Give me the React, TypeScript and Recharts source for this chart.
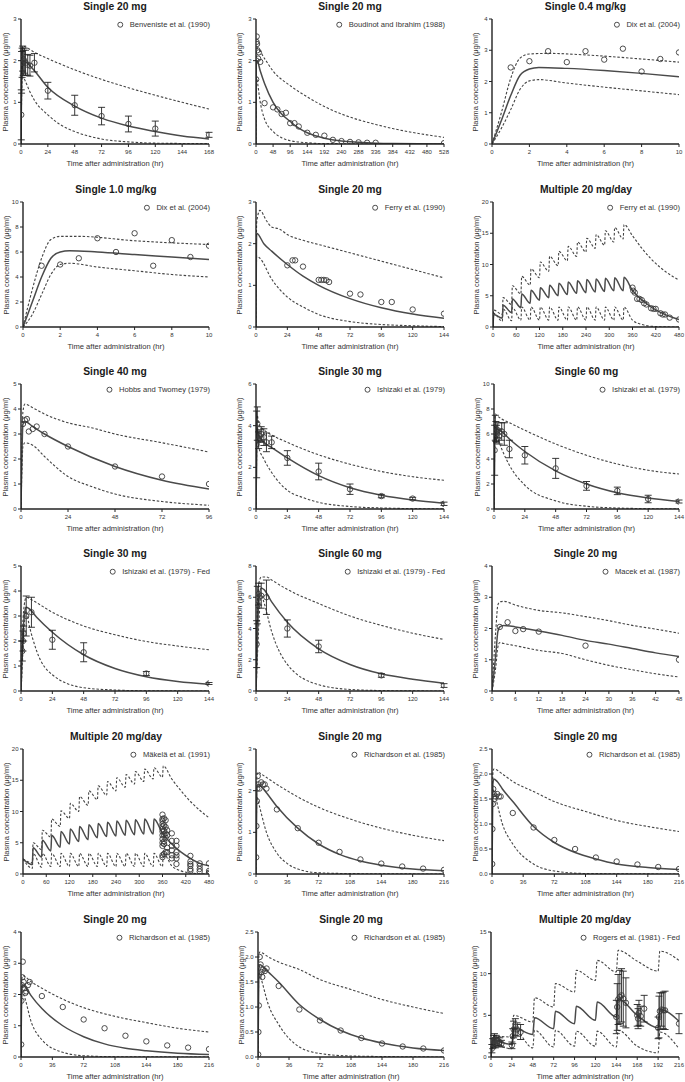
import React from 'react';
import { ComposedChart, Line, Scatter, XAxis, YAxis, ErrorBar } from 'recharts';

// ---------- Panel 1: Single 20 mg, Benveniste et al. (1990)
const p1Med = [[0,0],[0.5,1.3],[1,1.85],[2,2.0],[4,1.97],[8,1.88],[12,1.76],[24,1.36],[48,0.91],[72,0.62],[96,0.43],[120,0.3],[144,0.19],[168,0.12]];
const p1Up = [[0,0],[0.5,1.6],[1,2.2],[2,2.35],[4,2.33],[12,2.2],[24,2.05],[48,1.78],[72,1.55],[96,1.35],[120,1.17],[144,1.0],[168,0.84]];
const p1Lo = [[0,0],[0.5,1.0],[1,1.5],[2,1.6],[4,1.5],[8,1.25],[12,1.05],[24,0.7],[36,0.45],[48,0.3],[72,0.12],[96,0.05],[120,0.02],[168,0.01]];
const p1Obs = [[0.25,0.7,0.6],[0.5,1.72,0.5],[1,1.95,0.35],[1.5,2.05,0.3],[2,1.95,0.3],[3,2.0,0.3],[4,1.95,0.3],[6,1.9,0.25],[8,1.88,0.25],[12,1.95,0.22],[24,1.28,0.2],[48,0.93,0.24],[72,0.67,0.21],[96,0.48,0.19],[120,0.37,0.18],[168,0.22,0.06]];

// ---------- Panel 2: Single 20 mg, Boudinot and Ibrahim (1988)
const p2Med = [[0,0],[1,2.0],[3,2.0],[12,1.75],[24,1.45],[48,1.0],[72,0.72],[96,0.54],[120,0.38],[144,0.27],[192,0.14],[240,0.07],[288,0.04],[336,0.02],[384,0.01],[528,0]];
const p2Up = [[0,0],[1,2.2],[3,2.3],[24,2.05],[48,1.75],[96,1.4],[144,1.13],[192,0.9],[240,0.72],[288,0.58],[336,0.47],[384,0.37],[432,0.29],[480,0.22],[528,0.16]];
const p2Lo = [[0,0],[1,1.65],[3,1.55],[12,1.0],[24,0.6],[48,0.3],[72,0.15],[96,0.08],[144,0.03],[192,0.01],[528,0]];
const p2Obs = [[0.5,1.55],[1,2.0],[1.5,2.45],[2,2.58],[3,2.4],[4,2.25],[6,2.05],[8,2.2],[12,1.97],[24,0.98],[48,0.88],[60,0.83],[72,0.72],[84,0.75],[96,0.5],[108,0.5],[120,0.42],[144,0.27],[168,0.22],[192,0.2],[216,0.1],[240,0.07],[264,0.05],[288,0.04],[312,0.03],[336,0.03],[528,0.02]];

// ---------- Panel 3: Single 0.4 mg/kg, Dix et al. (2004)
const p3Med = [[0,0],[0.5,0.75],[1,1.55],[1.5,2.2],[2,2.4],[2.5,2.45],[4,2.42],[6,2.35],[8,2.26],[10,2.15]];
const p3Up = [[0,0],[0.5,1.0],[1,2.1],[1.5,2.75],[2,2.88],[3,2.9],[5,2.85],[8,2.72],[10,2.62]];
const p3Lo = [[0,0],[0.5,0.5],[1,1.1],[1.5,1.75],[2,2.02],[2.5,2.06],[4,1.95],[6,1.82],[8,1.7],[10,1.58]];
const p3Obs = [[1,2.45],[2,2.65],[3,2.97],[4,2.62],[5,2.97],[6,2.7],[7,3.05],[8,2.32],[9,2.72],[10,2.93]];

// ---------- Panel 4: Single 1.0 mg/kg, Dix et al. (2004)
const p4Med = [[0,0],[0.5,2.0],[1,4.0],[1.5,5.5],[2,6.0],[2.5,6.1],[4,6.0],[6,5.8],[8,5.6],[10,5.4]];
const p4Up = [[0,0],[0.5,3.0],[1,5.5],[1.5,7.0],[2,7.25],[3,7.25],[6,6.9],[10,6.6]];
const p4Lo = [[0,0],[0.5,1.0],[1,2.6],[1.5,4.2],[2,5.0],[2.5,5.1],[4,4.8],[6,4.5],[8,4.2],[10,4.0]];
const p4Obs = [[1,4.9],[2,5.0],[3,5.5],[4,7.1],[5,6.0],[6,7.5],[7,4.9],[8,6.95],[9,5.6],[10,6.5]];

// ---------- Panel 5: Single 20 mg, Ferry et al. (1990)
const p5Med = [[0,0],[0.5,2.25],[6,2.0],[12,1.82],[24,1.5],[36,1.22],[48,1.0],[72,0.68],[96,0.46],[120,0.31],[144,0.21]];
const p5Up = [[0,0],[0.5,2.5],[3,2.8],[8,2.55],[12,2.4],[18,2.35],[24,2.22],[36,2.08],[48,1.98],[72,1.78],[96,1.58],[120,1.38],[144,1.18]];
const p5Lo = [[0,0],[0.5,1.7],[3,1.65],[12,1.15],[24,0.72],[36,0.48],[48,0.3],[72,0.13],[96,0.06],[120,0.03],[144,0.01]];
const p5Obs = [[24,1.48],[28,1.6],[30,1.6],[36,1.45],[48,1.13],[50,1.13],[52,1.13],[54,1.12],[56,1.08],[72,0.8],[80,0.78],[96,0.6],[104,0.6],[120,0.42],[144,0.32]];

// ---------- Panel 6: Multiple 20 mg/day, Ferry et al. (1990)
const p6Med = [[0,0],[2,2.0],[24,1.4],[26,3.5],[48,2.3],[50,4.5],[72,3.1],[74,5.3],[96,3.8],[98,5.9],[120,4.3],[122,6.3],[144,4.7],[146,6.7],[168,5.0],[170,7.0],[192,5.2],[194,7.2],[216,5.4],[218,7.4],[240,5.5],[242,7.6],[264,5.6],[266,7.7],[288,5.7],[290,7.8],[312,5.8],[314,7.9],[336,5.8],[338,7.95],[360,5.85],[384,4.35],[408,3.2],[432,2.35],[456,1.7],[480,1.2]];
const p6Up = [[0,0],[2,2.7],[24,2.0],[26,4.7],[48,3.6],[50,6.6],[72,5.3],[74,8.1],[96,6.7],[98,9.3],[120,7.9],[122,10.4],[144,8.9],[146,11.3],[168,9.8],[170,12.1],[192,10.6],[194,12.9],[216,11.3],[218,13.6],[240,12.0],[242,14.2],[264,12.6],[266,14.8],[288,13.1],[290,15.4],[312,13.6],[314,15.9],[336,14.1],[338,16.4],[360,14.6],[384,12.6],[408,10.9],[432,9.5],[456,8.4],[480,7.5]];
const p6Lo = [[0,0],[2,2.2],[24,0.9],[26,2.9],[48,1.0],[50,3.1],[72,1.1],[74,3.2],[96,1.1],[98,3.2],[120,1.1],[122,3.2],[144,1.1],[146,3.2],[168,1.1],[170,3.2],[192,1.1],[194,3.2],[216,1.1],[218,3.2],[240,1.1],[242,3.2],[264,1.1],[266,3.2],[288,1.1],[290,3.2],[312,1.1],[314,3.2],[336,1.1],[338,3.2],[360,1.1],[384,0.4],[408,0.12],[432,0.04],[456,0.01],[480,0]];
const p6Obs = [[360,6.3],[362,5.8],[366,5.5],[372,4.5],[378,4.5],[384,4.3],[390,3.8],[396,3.6],[408,3.0],[414,2.9],[420,2.9],[432,2.2],[438,2.0],[444,2.0],[456,1.5],[480,1.2]];

// ---------- Panel 7: Single 40 mg, Hobbs and Twomey (1979)
const p7Med = [[0,0],[1,3.4],[2,3.5],[6,3.3],[12,3.0],[24,2.5],[48,1.7],[72,1.15],[96,0.8]];
const p7Up = [[0,0],[1,3.9],[2,4.2],[6,4.05],[12,3.8],[24,3.45],[36,3.25],[48,3.0],[72,2.65],[96,2.28]];
const p7Lo = [[0,0],[1,2.5],[2,2.65],[6,2.55],[12,2.1],[24,1.3],[36,0.9],[48,0.6],[72,0.3],[96,0.15]];
const p7Obs = [[1,3.4],[2,3.55],[3,3.6],[4,3.1],[6,3.2],[8,3.3],[12,3.0],[24,2.5],[48,1.7],[72,1.3],[96,1.0]];

// ---------- Panel 8: Single 30 mg, Ishizaki et al. (1979)
const p8Med = [[0,0],[0.5,2.8],[1,3.9],[2,3.55],[4,3.35],[8,3.1],[12,2.95],[24,2.45],[48,1.6],[72,1.02],[96,0.66],[120,0.43],[144,0.28]];
const p8Up = [[0,0],[0.5,3.5],[1,4.5],[2,4.1],[6,3.8],[12,3.55],[24,3.2],[48,2.6],[72,2.15],[96,1.8],[120,1.55],[144,1.38]];
const p8Lo = [[0,0],[0.5,2.5],[1,3.4],[2,3.0],[6,2.4],[12,1.75],[24,0.9],[36,0.55],[48,0.32],[72,0.12],[96,0.05],[120,0.02],[144,0.01]];
const p8Obs = [[0.5,3.1,1.6],[1,4.1,0.8],[2,3.3,0.4],[3,3.5,0.3],[4,3.6,0.35],[6,3.45,0.4],[8,3.2,0.45],[12,3.2,0.3],[24,2.45,0.35],[48,1.8,0.4],[72,0.95,0.25],[96,0.62,0.08],[120,0.5,0.06],[144,0.25,0.08]];

// ---------- Panel 9: Single 60 mg, Ishizaki et al. (1979)
const p9Med = [[0,0],[0.5,5.0],[1,6.5],[2,6.4],[6,6.2],[12,5.6],[24,4.6],[48,3.05],[72,2.0],[96,1.3],[120,0.88],[144,0.6]];
const p9Up = [[0,0],[0.5,6.5],[1,7.6],[2,7.5],[6,7.2],[12,6.9],[24,6.3],[48,5.2],[72,4.3],[96,3.6],[120,3.1],[144,2.8]];
const p9Lo = [[0,0],[0.5,4.5],[1,6.0],[3,5.6],[6,4.8],[12,3.5],[24,1.9],[48,0.65],[72,0.22],[96,0.08],[120,0.03],[144,0.01]];
const p9Obs = [[0.5,4.7,2.0],[1,6.5,1.0],[1.5,6.2,0.8],[2,6.0,0.7],[3,6.3,0.6],[4,5.8,0.6],[6,6.2,0.7],[8,6.0,0.9],[12,4.8,0.7],[24,4.3,0.7],[48,3.25,0.8],[72,1.85,0.35],[96,1.45,0.3],[120,0.8,0.3],[144,0.6,0.12]];

// ---------- Panel 10: Single 30 mg, Ishizaki et al. (1979) - Fed
const p10Med = [[0,0],[1,1.6],[2,2.7],[3,3.2],[4,3.35],[6,3.3],[12,2.95],[24,2.35],[48,1.45],[72,0.9],[96,0.57],[120,0.38],[144,0.27]];
const p10Up = [[0,0],[1,2.2],[2,3.2],[4,3.75],[8,3.65],[24,3.15],[48,2.6],[72,2.25],[96,1.98],[120,1.8],[144,1.65]];
const p10Lo = [[0,0],[1,1.0],[2,2.2],[4,3.2],[6,2.7],[12,1.6],[24,0.65],[48,0.13],[72,0.04],[96,0.01],[144,0]];
const p10Obs = [[1,1.6,0.4],[1.5,2.0,0.4],[2,2.3,0.3],[4,3.0,0.8],[8,3.15,0.6],[24,2.05,0.38],[48,1.55,0.38],[96,0.7,0.08],[144,0.3,0.04]];

// ---------- Panel 11: Single 60 mg, Ishizaki et al. (1979) - Fed
const p11Med = [[0,0],[1,3.0],[2,5.5],[4,6.6],[6,6.5],[12,5.7],[24,4.4],[48,2.7],[72,1.7],[96,1.1],[120,0.75],[144,0.5]];
const p11Up = [[0,0],[1,5.0],[2,6.8],[4,7.3],[8,7.3],[12,7.1],[24,6.5],[48,5.6],[72,4.8],[96,4.2],[120,3.7],[144,3.3]];
const p11Lo = [[0,0],[1,2.0],[2,4.0],[4,6.2],[6,5.7],[12,3.8],[24,1.7],[48,0.4],[72,0.1],[96,0.03],[144,0]];
const p11Obs = [[0.5,3.0,1.5],[1,5.5,1.2],[2,6.2,0.7],[4,6.1,0.8],[8,6.0,1.1],[24,4.0,0.55],[48,2.85,0.4],[96,1.0,0.12],[144,0.35,0.12]];

// ---------- Panel 12: Single 20 mg, Macek et al. (1987)
const p12Med = [[0,0],[1,1.2],[1.5,1.9],[2,2.05],[3,2.1],[6,2.05],[12,1.92],[18,1.78],[24,1.62],[30,1.5],[36,1.36],[42,1.22],[48,1.1]];
const p12Up = [[0,0],[1,2.0],[1.5,2.75],[2,2.85],[3,2.87],[6,2.75],[12,2.58],[18,2.5],[24,2.38],[30,2.25],[36,2.1],[42,1.98],[48,1.85]];
const p12Lo = [[0,0],[1,0.8],[1.5,1.4],[2,1.55],[3,1.52],[6,1.45],[12,1.3],[18,1.2],[24,1.0],[30,0.82],[36,0.68],[42,0.55],[48,0.45]];
const p12Obs = [[2,2.05],[4,2.2],[6,1.92],[8,1.98],[12,1.9],[24,1.45],[48,1.0]];

// ---------- Panel 13: Multiple 20 mg/day, Mäkelä et al. (1991)
const p13Med = [[0,2.4],[24,1.5],[26,4.2],[48,2.7],[50,5.4],[72,3.7],[74,6.2],[96,4.3],[98,6.8],[120,4.8],[122,7.2],[144,5.2],[146,7.6],[168,5.5],[170,7.9],[192,5.8],[194,8.1],[216,6.0],[218,8.3],[240,6.1],[242,8.5],[264,6.2],[266,8.6],[288,6.3],[290,8.7],[312,6.4],[314,8.8],[336,6.4],[338,8.8],[360,6.5],[384,4.8],[408,3.5],[432,2.5],[456,1.7],[480,1.3]];
const p13Up = [[0,2.4],[24,1.8],[26,5.0],[48,3.9],[50,7.0],[72,5.9],[74,8.8],[96,7.6],[98,10.1],[120,8.9],[122,11.3],[144,10.0],[146,12.4],[168,11.0],[170,13.3],[192,11.9],[194,14.1],[216,12.6],[218,14.8],[240,13.3],[242,15.4],[264,13.9],[266,15.9],[288,14.4],[290,16.4],[312,14.8],[314,16.8],[336,15.2],[338,17.0],[360,15.5],[362,17.3],[384,15.2],[408,13.3],[432,11.6],[456,10.2],[480,9.0]];
const p13Lo = [[0,2.4],[24,0.9],[26,3.3],[48,1.1],[50,3.3],[72,1.2],[74,3.3],[96,1.2],[98,3.3],[120,1.2],[122,3.3],[144,1.2],[146,3.3],[168,1.2],[170,3.3],[192,1.2],[194,3.3],[216,1.2],[218,3.3],[240,1.2],[242,3.3],[264,1.2],[266,3.3],[288,1.2],[290,3.3],[312,1.2],[314,3.3],[336,1.2],[338,3.3],[360,1.2],[362,3.3],[384,1.3],[408,0.5],[432,0.15],[456,0.04],[480,0.01]];
const p13Obs = [[360,9.5],[360,8.8],[360,8.5],[360,8.0],[360,7.6],[360,7.2],[360,6.8],[360,6.2],[360,5.6],[360,5.0],[360,4.5],[360,3.0],[360,2.7],[364,8.9],[364,7.8],[364,6.9],[364,6.3],[364,5.2],[364,4.8],[364,3.2],[368,8.6],[368,7.5],[368,6.5],[368,5.8],[368,3.5],[372,7.0],[372,6.2],[372,4.2],[372,3.5],[384,6.5],[384,5.3],[384,4.5],[384,3.8],[384,3.0],[384,2.5],[396,5.3],[396,4.5],[396,3.5],[396,3.0],[396,2.5],[396,1.6],[432,2.9],[432,2.0],[432,1.6],[432,1.3],[432,0.8],[432,0.5],[456,1.7],[456,1.3],[456,0.8],[456,0.4],[480,1.7],[480,0.5],[480,0.2],[480,0.0]];

// ---------- Panel 14: Single 20 mg, Richardson et al. (1985)
const p14Med = [[0,0],[1,2.1],[2,2.15],[6,2.1],[12,1.95],[24,1.62],[48,1.1],[72,0.72],[96,0.47],[120,0.31],[144,0.21],[180,0.12],[216,0.08]];
const p14Up = [[0,0],[1,2.3],[2,2.45],[6,2.4],[24,2.15],[48,1.85],[72,1.6],[108,1.32],[144,1.1],[180,0.93],[216,0.8]];
const p14Lo = [[0,0],[1,1.85],[3,1.7],[12,1.0],[24,0.5],[36,0.25],[48,0.12],[72,0.03],[108,0.01],[216,0]];
const p14Obs = [[0.25,0.4],[0.5,1.15],[1,1.75],[1.5,2.05],[2,2.35],[3,2.15],[4,2.05],[6,2.2],[8,2.15],[10,2.15],[12,2.05],[24,1.55],[48,1.1],[72,0.75],[96,0.53],[120,0.35],[144,0.25],[168,0.18],[192,0.13],[216,0.1]];

// ---------- Panel 15: Single 20 mg, Richardson et al. (1985)
const p15Med = [[0,0],[1,1.8],[2,1.9],[6,1.85],[12,1.7],[24,1.45],[48,0.95],[72,0.63],[96,0.43],[120,0.3],[144,0.2],[180,0.13],[216,0.09]];
const p15Up = [[0,0],[1,2.0],[2,2.1],[12,2.0],[24,1.85],[48,1.65],[72,1.45],[108,1.25],[144,1.07],[180,0.95],[216,0.85]];
const p15Lo = [[0,0],[1,1.7],[3,1.6],[12,1.0],[24,0.6],[48,0.2],[72,0.06],[108,0.01],[216,0]];
const p15Obs = [[0.25,0.2],[0.5,0.9],[1,1.4],[1.5,1.7],[2,1.6],[3,1.5],[4,1.55],[6,1.6],[8,1.55],[10,1.55],[24,1.22],[48,0.93],[72,0.68],[96,0.5],[120,0.33],[144,0.25],[168,0.19],[192,0.14],[216,0.1]];

// ---------- Panel 16: Single 20 mg, Richardson et al. (1985)
const p16Med = [[0,0],[1,2.2],[2,2.3],[6,2.2],[12,1.95],[24,1.55],[48,1.0],[72,0.65],[96,0.42],[120,0.28],[144,0.2],[180,0.12],[216,0.08]];
const p16Up = [[0,0],[1,2.5],[2,2.6],[12,2.4],[24,2.2],[48,1.85],[72,1.58],[108,1.3],[144,1.1],[180,0.92],[216,0.8]];
const p16Lo = [[0,0],[1,2.1],[3,2.0],[12,1.1],[24,0.55],[48,0.15],[72,0.04],[108,0.01],[216,0]];
const p16Obs = [[0.25,0.4],[0.5,1.8],[1,2.3],[1.5,2.55],[2,3.05],[3,2.4],[4,2.2],[5,2.05],[6,2.1],[8,2.3],[10,2.4],[24,1.95],[48,1.6],[72,1.2],[96,0.92],[120,0.68],[144,0.5],[168,0.37],[192,0.3],[216,0.25]];

// ---------- Panel 17: Single 20 mg, Richardson et al. (1985)
const p17Med = [[0,0],[1,1.75],[2,1.85],[6,1.8],[12,1.7],[24,1.5],[48,1.05],[72,0.75],[96,0.53],[120,0.38],[144,0.28],[180,0.18],[216,0.13]];
const p17Up = [[0,0],[1,2.0],[2,2.1],[12,2.0],[24,1.9],[48,1.75],[72,1.55],[108,1.35],[144,1.15],[180,1.0],[216,0.87]];
const p17Lo = [[0,0],[1,1.7],[3,1.6],[12,1.05],[24,0.65],[48,0.2],[72,0.07],[108,0.02],[216,0]];
const p17Obs = [[0.25,0.05],[0.5,0.5],[1,1.03],[1.5,1.65],[2,2.0],[3,1.85],[4,1.7],[5,1.6],[6,1.75],[8,1.72],[10,1.77],[24,1.42],[48,0.95],[72,0.73],[96,0.53],[120,0.38],[144,0.27],[168,0.21],[192,0.17],[216,0.13]];

// ---------- Panel 18: Multiple 20 mg/day, Rogers et al. (1981) - Fed
const p18Med = [[0,0],[2,2.0],[24,1.5],[26,3.5],[48,2.7],[50,4.7],[72,3.4],[74,5.5],[96,4.0],[98,6.1],[120,4.4],[122,6.6],[144,4.8],[146,7.0],[168,5.0],[192,3.5],[194,5.7],[216,4.3]];
const p18Up = [[0,0],[2,2.5],[24,2.4],[26,5.0],[48,4.2],[50,7.1],[72,6.0],[74,8.8],[96,7.8],[98,10.4],[120,9.2],[122,11.6],[144,10.2],[146,12.8],[168,11.5],[192,10.3],[194,12.7],[216,11.6]];
const p18Lo = [[0,0],[2,1.4],[24,1.0],[26,3.4],[48,1.1],[50,3.2],[72,1.2],[74,3.2],[96,1.3],[98,3.1],[120,1.3],[122,3.1],[144,1.2],[146,3.2],[168,1.3],[192,0.5],[194,3.0],[216,1.0]];
const p18Obs = [[1,1.0,0.5],[2,1.6,0.6],[3,1.9,0.7],[4,2.0,0.8],[5,1.7,0.6],[6,2.0,0.6],[8,1.9,0.5],[10,1.8,0.5],[12,1.6,0.4],[24,1.4,0.4],[25,2.5,0.9],[26,3.3,1.0],[28,3.6,1.0],[30,3.3,0.8],[34,3.0,0.9],[144,4.8,2.0],[145,6.0,2.8],[146,6.9,3.0],[148,7.2,3.2],[150,7.4,3.2],[152,7.0,3.3],[155,6.5,3.0],[168,5.0,1.3],[169,4.6,1.2],[170,5.3,1.5],[172,4.9,1.2],[176,5.8,1.6],[192,3.5,1.3],[193,4.8,2.5],[194,5.5,2.2],[196,5.7,2.0],[198,5.6,2.2],[200,5.6,2.3],[216,4.0,1.2]];

// ---------- tick labels
const xT168 = [0,24,48,72,96,120,144,168];
const xT528 = [0,48,96,144,192,240,288,336,384,432,480,528];
const xT10 = [0,2,4,6,8,10];
const xT144 = [0,24,48,72,96,120,144];
const xT480 = [0,60,120,180,240,300,360,420,480];
const xT96 = [0,24,48,72,96];
const xT48 = [0,6,12,18,24,30,36,42,48];
const xT216a = [0,36,72,108,144,180,216];
const xT216b = [0,24,48,72,96,120,144,168,192,216];
const yT3 = [0,1,2,3];
const yT4 = [0,1,2,3,4];
const yT5 = [0,1,2,3,4,5];
const yT6 = [0,2,4,6];
const yT8 = [0,2,4,6,8];
const yT10 = [0,2,4,6,8,10];
const yT15 = [0,5,10,15];
const yT20 = [0,5,10,15,20];
const yT25 = [0,0.5,1,1.5,2,2.5];

const FONT = '"Liberation Sans", Arial, Helvetica, sans-serif';
const ROW_T = [19, 202, 384, 566, 749, 932];
const COL_R = [209, 444, 679];
const PH = 125;

const panels = [
  { title: 'Single 20 mg', legend: 'Benveniste et al. (1990)', xT: xT168, yT: yT3, med: p1Med, up: p1Up, lo: p1Lo, obs: p1Obs, err: true, row: 0, col: 0, left: 21 },
  { title: 'Single 20 mg', legend: 'Boudinot and Ibrahim (1988)', xT: xT528, yT: yT3, med: p2Med, up: p2Up, lo: p2Lo, obs: p2Obs, row: 0, col: 1, left: 256 },
  { title: 'Single 0.4 mg/kg', legend: 'Dix et al. (2004)', xT: xT10, yT: yT4, med: p3Med, up: p3Up, lo: p3Lo, obs: p3Obs, row: 0, col: 2, left: 492 },
  { title: 'Single 1.0 mg/kg', legend: 'Dix et al. (2004)', xT: xT10, yT: yT10, med: p4Med, up: p4Up, lo: p4Lo, obs: p4Obs, row: 1, col: 0, left: 23 },
  { title: 'Single 20 mg', legend: 'Ferry et al. (1990)', xT: xT144, yT: yT3, med: p5Med, up: p5Up, lo: p5Lo, obs: p5Obs, row: 1, col: 1, left: 256 },
  { title: 'Multiple 20 mg/day', legend: 'Ferry et al. (1990)', xT: xT480, yT: yT20, med: p6Med, up: p6Up, lo: p6Lo, obs: p6Obs, row: 1, col: 2, left: 493 },
  { title: 'Single 40 mg', legend: 'Hobbs and Twomey (1979)', xT: xT96, yT: yT5, med: p7Med, up: p7Up, lo: p7Lo, obs: p7Obs, row: 2, col: 0, left: 21 },
  { title: 'Single 30 mg', legend: 'Ishizaki et al. (1979)', xT: xT144, yT: yT6, med: p8Med, up: p8Up, lo: p8Lo, obs: p8Obs, err: true, row: 2, col: 1, left: 256 },
  { title: 'Single 60 mg', legend: 'Ishizaki et al. (1979)', xT: xT144, yT: yT10, med: p9Med, up: p9Up, lo: p9Lo, obs: p9Obs, err: true, row: 2, col: 2, left: 494 },
  { title: 'Single 30 mg', legend: 'Ishizaki et al. (1979) - Fed', xT: xT144, yT: yT5, med: p10Med, up: p10Up, lo: p10Lo, obs: p10Obs, err: true, row: 3, col: 0, left: 21 },
  { title: 'Single 60 mg', legend: 'Ishizaki et al. (1979) - Fed', xT: xT144, yT: yT8, med: p11Med, up: p11Up, lo: p11Lo, obs: p11Obs, err: true, row: 3, col: 1, left: 256 },
  { title: 'Single 20 mg', legend: 'Macek et al. (1987)', xT: xT48, yT: yT4, med: p12Med, up: p12Up, lo: p12Lo, obs: p12Obs, row: 3, col: 2, left: 492 },
  { title: 'Multiple 20 mg/day', legend: 'Mäkelä et al. (1991)', xT: xT480, yT: yT20, med: p13Med, up: p13Up, lo: p13Lo, obs: p13Obs, row: 4, col: 0, left: 23 },
  { title: 'Single 20 mg', legend: 'Richardson et al. (1985)', xT: xT216a, yT: yT3, med: p14Med, up: p14Up, lo: p14Lo, obs: p14Obs, row: 4, col: 1, left: 256 },
  { title: 'Single 20 mg', legend: 'Richardson et al. (1985)', xT: xT216a, yT: yT25, med: p15Med, up: p15Up, lo: p15Lo, obs: p15Obs, dec: true, row: 4, col: 2, left: 492 },
  { title: 'Single 20 mg', legend: 'Richardson et al. (1985)', xT: xT216a, yT: yT4, med: p16Med, up: p16Up, lo: p16Lo, obs: p16Obs, row: 5, col: 0, left: 21 },
  { title: 'Single 20 mg', legend: 'Richardson et al. (1985)', xT: xT216a, yT: yT25, med: p17Med, up: p17Up, lo: p17Lo, obs: p17Obs, dec: true, row: 5, col: 1, left: 258 },
  { title: 'Multiple 20 mg/day', legend: 'Rogers et al. (1981) - Fed', xT: xT216b, yT: yT15, med: p18Med, up: p18Up, lo: p18Lo, obs: p18Obs, err: true, row: 5, col: 2, left: 491 },
];

const toXY = (arr: number[][]) => arr.map((a) => ({ x: a[0], y: a[1], e: a.length > 2 ? a[2] : 0 }));

const OpenCircle = (props: any) => {
  const { cx, cy } = props;
  if (cx == null || cy == null || isNaN(cx) || isNaN(cy)) return <g />;
  return <circle cx={cx} cy={cy} r={2.7} fill="none" stroke="#3a3a3a" strokeWidth={0.9} />;
};

function Panel({ cfg }: { cfg: any }) {
  const L = cfg.left;
  const R = COL_R[cfg.col];
  const T = ROW_T[cfg.row];
  const B = T + PH;
  const W = R - L;
  const xMax = cfg.xT[cfg.xT.length - 1];
  const yMax = cfg.yT[cfg.yT.length - 1];
  const cx = (L + R) / 2;
  const tickStyle = { fontSize: 6, fill: '#333', fontFamily: FONT };
  const axisStyle = { stroke: '#222', strokeWidth: 1.4 };
  return (
    <>
      <div style={{ position: 'absolute', left: L - 40, top: T - 10 }}>
        <ComposedChart width={W + 50} height={PH + 40} margin={{ top: 10, right: 10, bottom: 0, left: 0 }}>
          <XAxis type="number" dataKey="x" domain={[0, xMax]} ticks={cfg.xT} interval={0} allowDataOverflow height={30}
            tick={tickStyle} tickSize={3} tickMargin={3} axisLine={axisStyle} tickLine={{ stroke: '#222', strokeWidth: 1 }} />
          <YAxis type="number" dataKey="y" domain={[0, yMax]} ticks={cfg.yT} interval={0} allowDataOverflow width={40}
            tick={tickStyle} tickSize={3} tickMargin={1.5} axisLine={axisStyle} tickLine={{ stroke: '#222', strokeWidth: 1 }}
            tickFormatter={(v: number) => (cfg.dec ? v.toFixed(1) : String(v))} />
          <Line data={toXY(cfg.up)} dataKey="y" name="p95" type="monotone" stroke="#444" strokeWidth={1.1} strokeDasharray="2.5 1.8" dot={false} activeDot={false} isAnimationActive={false} />
          <Line data={toXY(cfg.lo)} dataKey="y" name="p5" type="monotone" stroke="#444" strokeWidth={1.1} strokeDasharray="2.5 1.8" dot={false} activeDot={false} isAnimationActive={false} />
          <Line data={toXY(cfg.med)} dataKey="y" name="median" type="monotone" stroke="#4a4a4a" strokeWidth={1.5} dot={false} activeDot={false} isAnimationActive={false} />
          <Scatter data={toXY(cfg.obs)} dataKey="y" name="obs" shape={OpenCircle} isAnimationActive={false}>
            {cfg.err ? <ErrorBar dataKey="e" direction="y" width={3.5} stroke="#222" strokeWidth={0.9} /> : null}
          </Scatter>
        </ComposedChart>
      </div>
      <div style={{ position: 'absolute', left: cx, top: T - 12.5, transform: 'translate(-50%, -50%)', font: `bold 10.3px ${FONT}`, color: '#1a1a1a', whiteSpace: 'nowrap', lineHeight: 1.1 }}>{cfg.title}</div>
      <div style={{ position: 'absolute', left: R + 1, top: T + 6, transform: 'translate(-100%, -50%)', display: 'flex', alignItems: 'center', whiteSpace: 'nowrap', font: `7.6px ${FONT}`, color: '#333', lineHeight: 1 }}>
        <svg width={7} height={7} style={{ marginRight: 6 }}><circle cx={3.5} cy={3.5} r={2.5} fill="none" stroke="#3a3a3a" strokeWidth={0.9} /></svg>
        <span>{cfg.legend}</span>
      </div>
      <div style={{ position: 'absolute', left: Math.max(L - 16, 6), top: T + PH / 2, transform: 'translate(-50%, -50%) rotate(-90deg)', font: `7.6px ${FONT}`, color: '#333', whiteSpace: 'nowrap', lineHeight: 1 }}>Plasma concentration (μg/ml)</div>
      <div style={{ position: 'absolute', left: cx, top: B + 20, transform: 'translate(-50%, -50%)', font: `7.6px ${FONT}`, color: '#333', whiteSpace: 'nowrap', lineHeight: 1 }}>Time after administration (hr)</div>
    </>
  );
}

export default function App() {
  return (
    <div style={{ position: 'absolute', left: 0, top: 0, width: 685, height: 1082, background: '#fff', overflow: 'hidden' }}>
      {panels.map((p, i) => <Panel key={i} cfg={p} />)}
    </div>
  );
}
